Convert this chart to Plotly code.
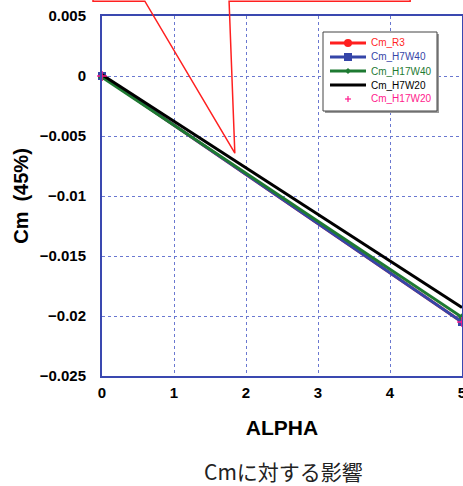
import plotly.graph_objects as go

alpha = [0, 5]
cm_r3 = [0.0, -0.0205]
cm_h7w40 = [0.0, -0.0205]
cm_h17w40 = [-0.0001, -0.0201]
cm_h7w20 = [0.0001, -0.0193]
cm_h17w20 = [0.0, -0.0205]

y_tickvals = [0.005, 0, -0.005, -0.01, -0.015, -0.02, -0.025]
y_ticktext = ["0.005", "0", "\u22120.005", "\u22120.01", "\u22120.015", "\u22120.02", "\u22120.025"]
x_tickvals = [0, 1, 2, 3, 4, 5]
x_ticktext = ["0", "1", "2", "3", "4", "5"]

series_names = ["Cm_R3", "Cm_H7W40", "Cm_H17W40", "Cm_H7W20", "Cm_H17W20"]

RED = "#ff1f1f"
BLUE = "#3545a8"
GREEN = "#1e7a32"
BLACK = "#000000"
MAGENTA = "#ff1a8c"
AXIS = "#3a48b0"
GRID = "#6a78d0"

series_colors = [RED, BLUE, GREEN, BLACK, MAGENTA]
series_symbols = ["circle", "square", "diamond", None, "cross"]
series_values = [cm_r3, cm_h7w40, cm_h17w40, cm_h7w20, cm_h17w20]

fig = go.Figure()
for name, vals, col, sym in zip(series_names, series_values, series_colors, series_symbols):
    if sym is None:
        fig.add_trace(go.Scatter(x=alpha, y=vals, mode="lines", cliponaxis=False, name=name,
                                 line=dict(color=col, width=3)))
    elif sym == "cross":
        fig.add_trace(go.Scatter(x=alpha, y=vals, mode="markers", cliponaxis=False, name=name,
                                 marker=dict(symbol="cross-thin", size=7, color=col,
                                             line=dict(color=col, width=1.5))))
    else:
        size = {"circle": 8, "square": 8, "diamond": 6}[sym]
        fig.add_trace(go.Scatter(x=alpha, y=vals, mode="lines+markers", cliponaxis=False, name=name,
                                 line=dict(color=col, width=3),
                                 marker=dict(symbol=sym, size=size, color=col)))

tick_font = dict(family="Liberation Sans, Arial, sans-serif", size=15, color="black", weight="bold")

fig.update_xaxes(range=[0, 5], tickvals=x_tickvals, ticktext=x_ticktext, automargin=False,
                 ticklabeloverflow="allow",
                 showline=True, linecolor=AXIS, linewidth=2, mirror=True,
                 showgrid=True, gridcolor=GRID, gridwidth=1, griddash="dot",
                 zeroline=False, ticks="", ticklabelstandoff=2, tickfont=tick_font,
                 title=dict(text="ALPHA", standoff=20,
                            font=dict(family="Liberation Sans, Arial, sans-serif", size=21,
                                      color="black", weight="bold")))
fig.update_yaxes(range=[-0.025, 0.005], tickvals=y_tickvals, ticktext=y_ticktext, automargin=False,
                 ticklabeloverflow="allow",
                 showline=True, linecolor=AXIS, linewidth=2, mirror=True,
                 showgrid=True, gridcolor=GRID, gridwidth=1, griddash="dot",
                 zeroline=False, ticks="", ticklabelstandoff=11, tickfont=tick_font,
                 title=dict(text="Cm\u2002(45%)", standoff=6,
                            font=dict(family="Liberation Sans, Arial, sans-serif", size=20,
                                      color="black", weight="bold")))

# callout (red box partly above the canvas, pointer to the lines)
fig.add_shape(type="path", xref="paper", yref="paper",
              path="M -0.025,1.25 L -0.025,1.041 L 0.119,1.041 L 0.369,0.619 L 0.353,1.041 L 0.856,1.041 L 0.856,1.25",
              line=dict(color="#ff2020", width=1.5), fillcolor="rgba(0,0,0,0)", layer="above")

# legend box (plot area is 360x360 px, so 1 px = 1/360 paper)
px = 1 / 360.0
lx0, lx1 = (323 - 102) * px, (437 - 102) * px
ly1, ly0 = (376 - 32) * px, (376 - 111) * px
fig.add_shape(type="rect", xref="paper", yref="paper", x0=lx0 + 2 * px, x1=lx1 + 2 * px,
              y0=ly0 - 2 * px, y1=ly1 - 2 * px, line=dict(width=0), fillcolor="#9a9a9a", layer="above")
fig.add_shape(type="rect", xref="paper", yref="paper", x0=lx0, x1=lx1, y0=ly0, y1=ly1,
              line=dict(color="#444444", width=1), fillcolor="white", layer="above")
row_top, row_h = 43, 14
for i, (name, col, sym) in enumerate(zip(series_names, series_colors, series_symbols)):
    yc = (376 - (row_top + i * row_h)) * px
    xs0, xs1, xm = (330 - 102) * px, (366 - 102) * px, (348 - 102) * px
    if sym != "cross":
        fig.add_shape(type="line", xref="paper", yref="paper", x0=xs0, x1=xs1, y0=yc, y1=yc,
                      line=dict(color=col, width=3), layer="above")
    if sym == "circle":
        fig.add_shape(type="circle", xref="paper", yref="paper", x0=xm - 4 * px, x1=xm + 4 * px,
                      y0=yc - 4 * px, y1=yc + 4 * px, line=dict(width=0), fillcolor=col, layer="above")
    elif sym == "square":
        fig.add_shape(type="rect", xref="paper", yref="paper", x0=xm - 4 * px, x1=xm + 4 * px,
                      y0=yc - 4 * px, y1=yc + 4 * px, line=dict(width=0), fillcolor=col, layer="above")
    elif sym == "diamond":
        d = 3 * px
        fig.add_shape(type="path", xref="paper", yref="paper",
                      path=f"M {xm - d},{yc} L {xm},{yc + d} L {xm + d},{yc} L {xm},{yc - d} Z",
                      line=dict(width=0), fillcolor=col, layer="above")
    elif sym == "cross":
        d = 3 * px
        fig.add_shape(type="line", xref="paper", yref="paper", x0=xm - d, x1=xm + d, y0=yc, y1=yc,
                      line=dict(color=col, width=1.2), layer="above")
        fig.add_shape(type="line", xref="paper", yref="paper", x0=xm, x1=xm, y0=yc - d, y1=yc + d,
                      line=dict(color=col, width=1.2), layer="above")
    fig.add_annotation(text=name, xref="paper", yref="paper", x=(369 - 102) * px, y=yc,
                       xanchor="left", yanchor="middle", showarrow=False,
                       font=dict(family="Liberation Sans, Arial, sans-serif", size=10, color=col))

fig.add_annotation(text="Cmに対する影響", xref="paper", yref="paper", x=0.503, y=(376 - 471) * px,
                   xanchor="center", yanchor="middle", showarrow=False,
                   font=dict(family="Noto Sans CJK JP, Noto Sans, sans-serif", size=21, color="#222222"))

fig.update_layout(
    width=463, height=486,
    margin=dict(l=102, r=1, t=16, b=110),
    paper_bgcolor="white", plot_bgcolor="white",
    showlegend=False,
)

# remove the default 8px page margin so the figure sits at the window's top-left corner
fig.write_html("out.html", config={"displayModeBar": False},
               post_script="document.body.style.margin='0';document.body.style.overflow='hidden';")
